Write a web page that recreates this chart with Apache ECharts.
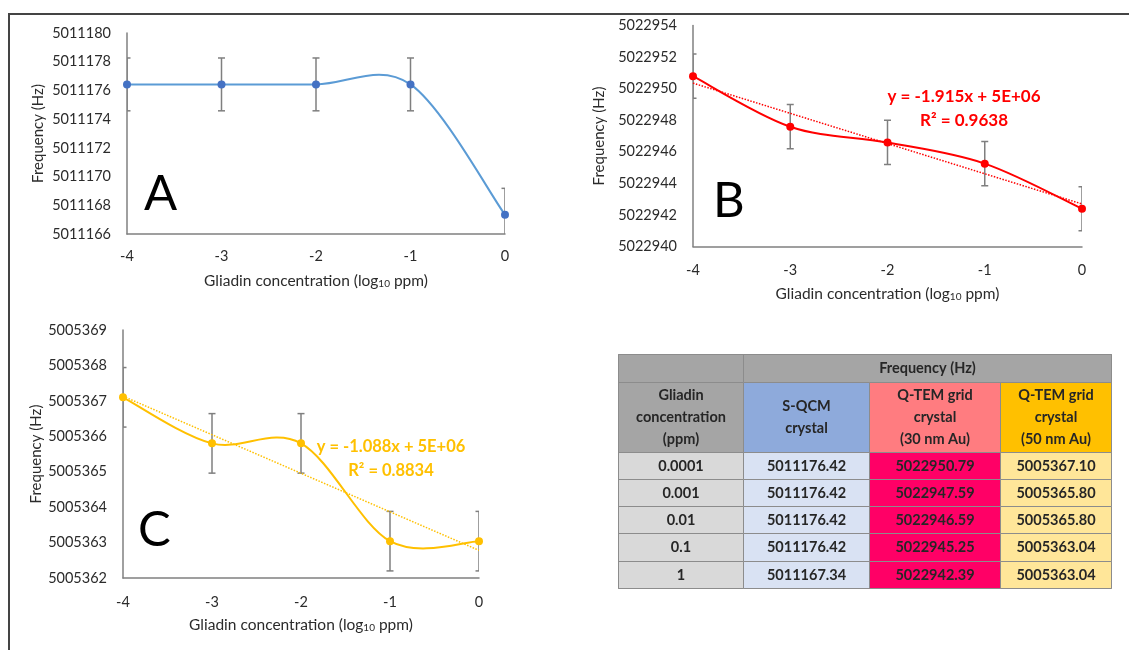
<!DOCTYPE html>
<html>
<head>
<meta charset="utf-8">
<script src="https://cdn.jsdelivr.net/npm/echarts@6/dist/echarts.min.js"></script>
<style>
html, body { margin: 0; padding: 0; background: #fff; }
#main { width: 1129px; height: 650px; }
</style>
</head>
<body>
<div id="main"></div>
<script>
// x of the three plots: log10 of gliadin concentration
const logConc = [-4, -3, -2, -1, 0];
const concLabels = ['0.0001', '0.001', '0.01', '0.1', '1'];
// frequency (Hz) for each crystal
const sqcm = [5011176.42, 5011176.42, 5011176.42, 5011176.42, 5011167.34];
const tem30 = [5022950.79, 5022947.59, 5022946.59, 5022945.25, 5022942.39];
const tem50 = [5005367.10, 5005365.80, 5005365.80, 5005363.04, 5005363.04];
// error bars (+/- Hz)
const errA = [1.84, 1.84, 1.84, 1.84, 1.84];
const errB = [1.4, 1.4, 1.4, 1.4, 1.4];
const errC = [0.84, 0.84, 0.84, 0.84, 0.84];
// table column headers
const colHeaders = ['S-QCM\ncrystal', 'Q-TEM grid\ncrystal\n(30 nm Au)', 'Q-TEM grid\ncrystal\n(50 nm Au)'];

const FONT = 'Lato';
const GREY = '#2b2b2b';

// least squares line (excel "linear trendline")
function trend(xs, ys) {
    const n = xs.length;
    const mx = xs.reduce((a, b) => a + b, 0) / n;
    const my = ys.reduce((a, b) => a + b, 0) / n;
    let sxy = 0, sxx = 0;
    xs.forEach((x, i) => {
        sxy += (x - mx) * (ys[i] - my);
        sxx += (x - mx) * (x - mx);
    });
    const k = sxy / sxx;
    return [[xs[0], my + k * (xs[0] - mx)], [xs[n - 1], my + k * (xs[n - 1] - mx)]];
}

function errorSeries(idx, ys, err) {
    return {
        type: 'custom',
        xAxisIndex: idx,
        yAxisIndex: idx,
        clip: true,
        z: 1,
        data: logConc.map((x, i) => [x, ys[i] - err[i], ys[i] + err[i]]),
        renderItem: function (params, api) {
            const lo = api.coord([api.value(0), api.value(1)]);
            const hi = api.coord([api.value(0), api.value(2)]);
            const w = 3.5;
            const style = { stroke: '#7f7f7f', lineWidth: 1.5 };
            return {
                type: 'group',
                children: [
                    { type: 'line', shape: { x1: lo[0], y1: lo[1], x2: hi[0], y2: hi[1] }, style: style },
                    { type: 'line', shape: { x1: lo[0] - w, y1: lo[1], x2: lo[0] + w, y2: lo[1] }, style: style },
                    { type: 'line', shape: { x1: hi[0] - w, y1: hi[1], x2: hi[0] + w, y2: hi[1] }, style: style }
                ]
            };
        }
    };
}

// excel style smoothed line: one bezier per segment, catmull-rom control points
function curveSeries(idx, ys, color) {
    const n = logConc.length;
    return {
        type: 'custom',
        xAxisIndex: idx,
        yAxisIndex: idx,
        clip: true,
        z: 3,
        data: logConc.map((x, i) => [x, ys[i]]),
        renderItem: function (params, api) {
            const i = params.dataIndex;
            if (i >= n - 1) return;
            const p = k => {
                const j = Math.max(0, Math.min(n - 1, k));
                return api.coord([logConc[j], ys[j]]);
            };
            const p0 = p(i - 1), p1 = p(i), p2 = p(i + 1), p3 = p(i + 2);
            return {
                type: 'bezierCurve',
                shape: {
                    x1: p1[0], y1: p1[1], x2: p2[0], y2: p2[1],
                    cpx1: p1[0] + (p2[0] - p0[0]) / 6, cpy1: p1[1] + (p2[1] - p0[1]) / 6,
                    cpx2: p2[0] - (p3[0] - p1[0]) / 6, cpy2: p2[1] - (p3[1] - p1[1]) / 6
                },
                style: { stroke: color, lineWidth: 2, fill: 'none' }
            };
        }
    };
}

function dotSeries(idx, ys, color) {
    return {
        type: 'scatter',
        xAxisIndex: idx,
        yAxisIndex: idx,
        data: logConc.map((x, i) => [x, ys[i]]),
        symbol: 'circle',
        symbolSize: 8,
        itemStyle: { color: color, opacity: 1 },
        z: 4
    };
}

function trendSeries(idx, ys, color) {
    return {
        type: 'line',
        xAxisIndex: idx,
        yAxisIndex: idx,
        data: trend(logConc, ys),
        symbol: 'none',
        lineStyle: { color: color, width: 1.5, type: 'dotted' },
        z: 2
    };
}

function xAxisCfg(idx, margin) {
    return {
        gridIndex: idx,
        type: 'value',
        min: -4,
        max: 0,
        interval: 1,
        name: 'Gliadin concentration (log{sub|10} ppm)',
        nameLocation: 'middle',
        nameGap: 39,
        nameTextStyle: {
            color: GREY, fontSize: 15.5, fontFamily: FONT,
            rich: { sub: { fontSize: 10, color: GREY, fontFamily: FONT, verticalAlign: 'bottom', padding: [5, 0, 0, 0] } }
        },
        axisLine: { onZero: false, lineStyle: { color: '#808080', width: 1.5 } },
        axisTick: { show: false },
        splitLine: { show: false },
        axisLabel: { margin: margin, color: GREY, fontSize: 14.5, fontFamily: FONT }
    };
}

function yAxisCfg(idx, min, max, interval, gap) {
    return {
        gridIndex: idx,
        type: 'value',
        min: min,
        max: max,
        interval: interval,
        name: 'Frequency (Hz)',
        nameLocation: 'middle',
        nameGap: gap,
        nameTextStyle: { color: GREY, fontSize: 15, fontFamily: FONT },
        axisLine: { show: true, onZero: false, lineStyle: { color: '#808080', width: 1.5 } },
        axisTick: { show: false },
        splitLine: { show: false },
        axisLabel: { margin: 16, color: GREY, fontSize: 14.5, fontFamily: FONT, formatter: v => String(v) }
    };
}

const labelStyle = { color: '#262626', fontWeight: 'bold', fontSize: 14.5, fontFamily: FONT, lineHeight: 22 };
const cellBorder = { borderColor: '#8c8c8c', borderWidth: 1 };
const headColors = ['#8eaadb', '#ff7c80', '#ffc000'];
const bodyColors = ['#d9e2f3', '#ff0066', '#ffe699'];
const colWidths = [126, 131, 111];
const columns = [sqcm, tem30, tem50];

const bodyCells = [];
columns.forEach((col, ci) => {
    col.forEach((v, ri) => {
        bodyCells.push({
            coord: [ci, ri],
            value: v.toFixed(2),
            itemStyle: Object.assign({ color: bodyColors[ci] }, cellBorder)
        });
    });
});

const option = {
    animation: false,
    textStyle: { fontFamily: FONT },
    grid: [
        { left: 127, top: 33, width: 378, height: 201 },
        { left: 693, top: 25.5, width: 389, height: 221 },
        { left: 123, top: 330, width: 356, height: 248 }
    ],
    xAxis: [xAxisCfg(0, 15), xAxisCfg(1, 16), xAxisCfg(2, 17)],
    yAxis: [
        yAxisCfg(0, 5011166, 5011180, 2, 81),
        yAxisCfg(1, 5022940, 5022954, 2, 86),
        yAxisCfg(2, 5005362, 5005369, 1, 79)
    ],
    matrix: {
        left: 618,
        top: 354,
        width: 493,
        height: 234,
        x: {
            data: [{
                value: 'Frequency (Hz)',
                children: colHeaders.map((h, i) => ({ value: h, size: colWidths[i], itemStyle: Object.assign({ color: headColors[i] }, cellBorder) }))
            }],
            levels: [{ levelSize: 28 }, { levelSize: 70 }],
            itemStyle: Object.assign({ color: '#a5a5a5' }, cellBorder),
            label: labelStyle,
            dividerLineStyle: { color: '#8c8c8c', width: 1 }
        },
        y: {
            data: concLabels,
            levels: [{ levelSize: 125 }],
            itemStyle: Object.assign({ color: '#d9d9d9' }, cellBorder),
            label: labelStyle,
            dividerLineStyle: { color: '#8c8c8c', width: 1 }
        },
        corner: {
            data: [{ coord: [-1, -1], value: 'Gliadin\nconcentration\n(ppm)' }],
            itemStyle: Object.assign({ color: '#a5a5a5' }, cellBorder),
            label: labelStyle
        },
        body: {
            data: bodyCells,
            itemStyle: cellBorder,
            label: labelStyle
        },
        backgroundStyle: { borderColor: '#8c8c8c', borderWidth: 1 }
    },
    graphic: [
        { type: 'rect', z: -10, shape: { x: 9, y: 14, width: 1200, height: 700 }, style: { fill: 'none', stroke: '#444', lineWidth: 2 } },
        { type: 'text', left: 144, top: 170, style: { text: 'A', fontSize: 49, fontFamily: FONT, fill: '#000' } },
        { type: 'text', left: 713, top: 177, style: { text: 'B', fontSize: 49, fontFamily: FONT, fill: '#000' } },
        { type: 'text', left: 138, top: 506, style: { text: 'C', fontSize: 49, fontFamily: FONT, fill: '#000' } },
        { type: 'text', x: 964, y: 85, style: { text: 'y = -1.915x + 5E+06\nR² = 0.9638', align: 'center', fontSize: 17, lineHeight: 24, fontWeight: 'bold', fontFamily: FONT, fill: '#ff0000' } },
        { type: 'text', x: 391, y: 435, style: { text: 'y = -1.088x + 5E+06\nR² = 0.8834', align: 'center', fontSize: 16.5, lineHeight: 24, fontWeight: 'bold', fontFamily: FONT, fill: '#ffc000' } }
    ],
    series: [
        errorSeries(0, sqcm, errA),
        curveSeries(0, sqcm, '#5b9bd5'),
        dotSeries(0, sqcm, '#4472c4'),
        errorSeries(1, tem30, errB),
        trendSeries(1, tem30, '#ff0000'),
        curveSeries(1, tem30, '#ff0000'),
        dotSeries(1, tem30, '#ff0000'),
        errorSeries(2, tem50, errC),
        trendSeries(2, tem50, '#ffc000'),
        curveSeries(2, tem50, '#ffc000'),
        dotSeries(2, tem50, '#ffc000')
    ]
};

const chart = echarts.init(document.getElementById('main'));
chart.setOption(option);
</script>
</body>
</html>
